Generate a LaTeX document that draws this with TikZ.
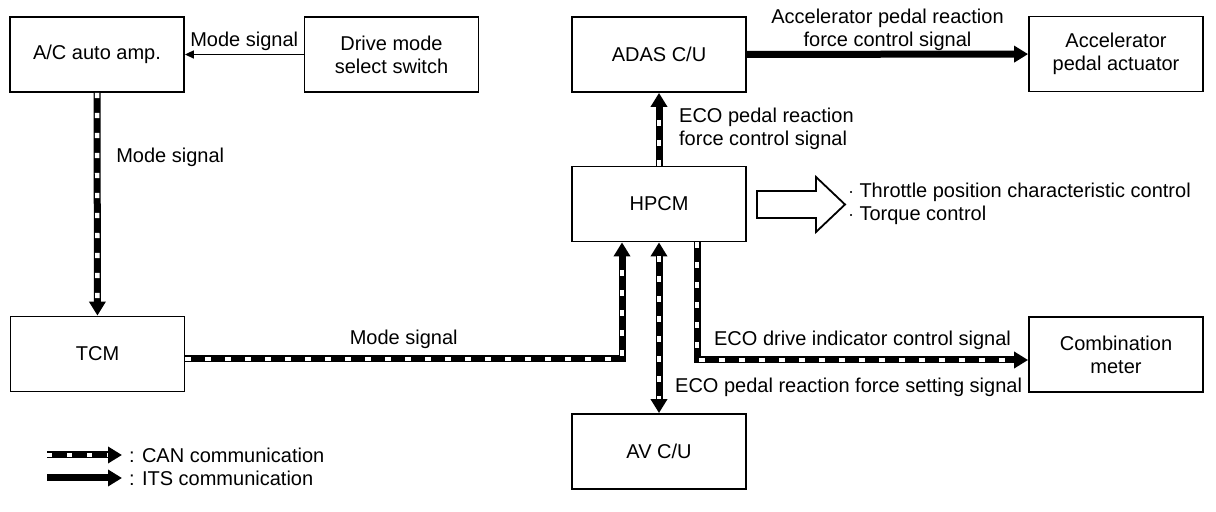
\documentclass[tikz,border=0pt]{standalone}
\usepackage{fontspec}
\setmainfont{Liberation Sans}
\usepackage{tikz}
\usetikzlibrary{calc}
\usetikzlibrary{arrows.meta}
\usetikzlibrary{positioning}
\tikzset{>=latex}
\tikzstyle{unit} = [rectangle, draw=black, line width=0.9pt, minimum width=87pt, minimum height=37.5pt, align=center, inner sep=2pt]
\tikzstyle{sig} = [-{Triangle[length=4.5pt, width=4pt]}, line width=0.8pt]
\tikzstyle{its} = [-{Triangle[length=7pt, width=8pt]}, line width=3.5pt]
\tikzstyle{can} = [-{Triangle[length=7pt, width=8pt]}, line width=3.5pt, postaction = {draw=white, -, line width=2.2pt, dash pattern=on 2.6pt off 7.4pt, shorten >=7pt}]
\tikzstyle{canboth} = [{Triangle[length=7pt, width=8pt]}-{Triangle[length=7pt, width=8pt]}, line width=3.5pt, postaction = {draw=white, -, line width=2.2pt, dash pattern=on 2.6pt off 7.4pt, shorten >=7pt, shorten <=7pt}]

\begin{document}
\begin{tikzpicture}[x=0.5pt, y=-0.5pt, font=\fontsize{10}{11.5}\selectfont]
\useasboundingbox (0,0) rectangle (1216,512);
% units
\node [unit] (acamp) at (97, 54.5) {A/C auto amp.};
\node [unit] (drvsw) at (391.5, 54.5) {Drive mode\\select switch};
\node [unit] (adas) at (659, 54.5) {ADAS C/U};
\node [unit] (accact) at (1116, 54) {Accelerator\\pedal actuator};
\node [unit] (hpcm) at (659, 204) {HPCM};
\node [unit] (tcm) at (97.5, 354) {TCM};
\node [unit] (combmtr) at (1116, 354.5) {Combination\\meter};
\node [unit] (avcu) at (659, 451.5) {AV C/U};
% signals
\draw [sig] (drvsw) to node[pos=0.5, above=-2pt]{Mode signal} (acamp);
\draw [can] (acamp) to node[pos=0.29, right=4.5pt]{Mode signal} (tcm);
\draw [can] ($(tcm.east)+(0,5)$) -| node[pos=0.25, above]{Mode signal} ($(hpcm.south)+(-37,0)$);
\draw [can] (hpcm) to node[pos=0.5, right=5pt, align=left]{ECO pedal reaction\\force control signal} (adas);
\draw [its] (adas) to node[pos=0.5, above=-3.5pt, align=center]{Accelerator pedal reaction\\force control signal} (accact);
\draw [canboth] (hpcm) to node[pos=0.85, right=3pt]{ECO pedal reaction force setting signal} (avcu);
\draw [can] ($(hpcm.south)+(38,0)$) |- node[pos=0.75, above]{ECO drive indicator control signal} ($(combmtr.west)+(0,5.5)$);
% HPCM control
\draw [line width=0.9pt] (757,191) -- (816,191) -- (816,177) -- (845,204.5) -- (816,232) -- (816,218) -- (757,218) -- cycle;
\node [anchor=west, align=left, inner sep=0pt] (ctrl) at (848,204) {$\cdot$ Throttle position characteristic control\\$\cdot$ Torque control};
% legend
\coordinate (canL) at (47,455);
\coordinate (itsL) at (47,478);
\node [anchor=west] (cantxt) at (122,455) {: CAN communication};
\node [anchor=west] (itstxt) at (122,478) {: ITS communication};
\draw [can] (canL) -- (cantxt.west);
\draw [its] (itsL) -- (itstxt.west);
\end{tikzpicture}
\end{document}
